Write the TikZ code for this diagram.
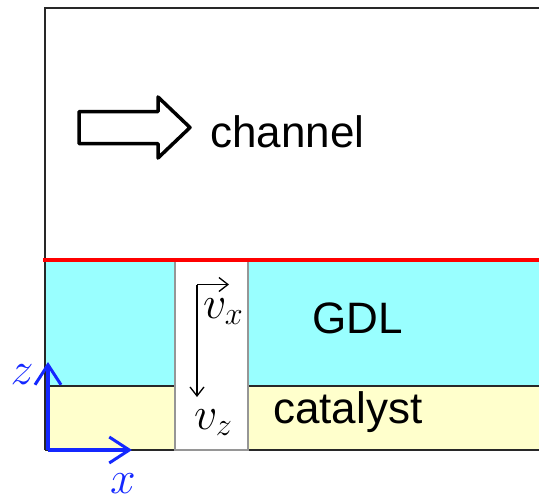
\RequirePackage{fix-cm}
\documentclass[tikz,border=0pt]{standalone}
\usepackage{fontspec}
\setsansfont{Liberation Sans}
\usetikzlibrary{arrows.meta}
\definecolor{gdl}{RGB}{153,255,255}
\definecolor{cat}{RGB}{255,255,204}
\definecolor{axblue}{RGB}{20,40,255}
\definecolor{edge}{RGB}{40,40,40}
\definecolor{gapedge}{RGB}{150,150,150}
\tikzset{
  lbl/.style={font=\sffamily\fontsize{44}{48}\selectfont, inner sep=0pt, anchor=base west},
  mlbl/.style={font=\fontsize{46}{50}\selectfont, inner sep=0pt, anchor=base west},
  blockedge/.style={draw=edge, line width=1.4pt},
  axis/.style={draw=axblue, line width=3.5pt, -{Straight Barb[length=20pt,width=26pt,line width=3pt]}},
  vel/.style={draw=black, line width=1.3pt, -{Straight Barb[length=9pt,width=14pt,line width=1.3pt]}}
}
\begin{document}
\begin{tikzpicture}[x=1pt,y=-1pt]
\useasboundingbox (0,0) rectangle (539,499);
\clip (0,0) rectangle (539,499);
% channel box
\draw[blockedge] (45,261) -- (45,8) -- (560,8);
% GDL and catalyst
\fill[gdl] (45,261) rectangle (175,386);
\fill[gdl] (248,261) rectangle (560,386);
\fill[cat] (45,386) rectangle (175,450);
\fill[cat] (248,386) rectangle (560,450);
\draw[blockedge] (45,386) -- (175,386);
\draw[blockedge] (248,386) -- (560,386);
\draw[blockedge] (45,450) -- (175,450);
\draw[blockedge] (248,450) -- (560,450);
\draw[blockedge] (45,261) -- (45,450);
\draw[draw=gapedge, line width=1.4pt, fill=white] (175,261) rectangle (248,450);
\draw[draw=red, line width=4pt] (43,259.5) -- (560,259.5);
% hollow arrow
\draw[line width=3.5pt, line join=round]
  (79,111.5) -- (158,111.5) -- (158,97) -- (190,127.5) -- (158,158) -- (158,143.5) -- (79,143.5) -- cycle;
\node[lbl] (channel) at (210,147) {channel};
\node[lbl] (gdl) at (312,333) {GDL};
\node[lbl] (catalyst) at (273,423) {catalyst};
% velocity arrows
\coordinate (corner) at (197,284.5);
\coordinate (vxend) at (229,284.5);
\coordinate (vzend) at (197,397);
\draw[vel] (corner) -- (vxend);
\draw[vel] (corner) -- (vzend);
\node[mlbl] (vx) at (203,318) {$v_x$};
\node[mlbl] (vz) at (194,429) {$v_z$};
% axes
\coordinate (origin) at (48,450);
\coordinate (ztip) at (48,362);
\coordinate (xtip) at (132,450);
\draw[axis] (origin) -- (ztip);
\draw[axis] (origin) -- (xtip);
\node[mlbl, text=axblue, anchor=center] (zl) at (22,375) {$z$};
\node[mlbl, text=axblue, anchor=center] (xl) at (123,484) {$x$};
\end{tikzpicture}
\end{document}
